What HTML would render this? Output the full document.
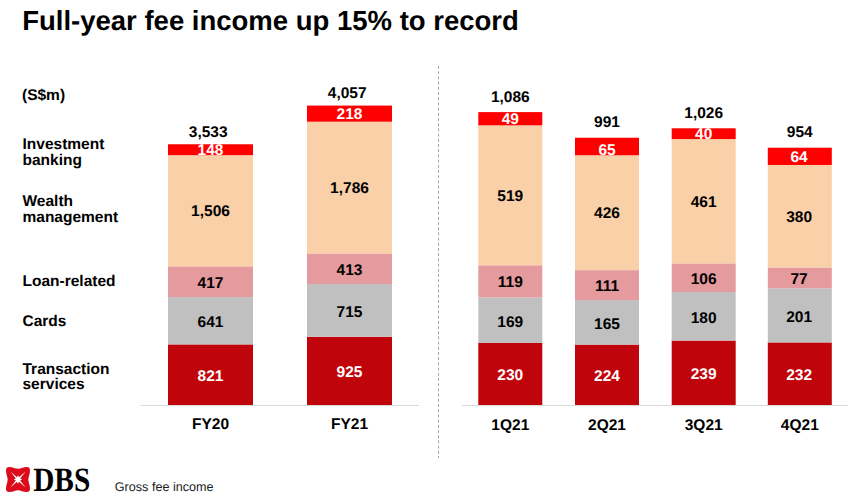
<!DOCTYPE html>
<html><head><meta charset="utf-8"><style>
html,body{margin:0;padding:0;background:#fff;width:858px;height:502px;overflow:hidden}
svg{display:block}
text{font-family:"Liberation Sans",sans-serif;font-weight:bold;text-rendering:geometricPrecision}
.n{font-size:15.5px;text-anchor:middle}
.lab{font-size:15.5px}
</style></head><body>
<svg width="858" height="502" viewBox="0 0 858 502">
<text x="22.2" y="30" style="font-size:27.5px">Full-year fee income up 15% to record</text>
<text x="22" y="99.7" class="lab">(S$m)</text>
<text x="22.5" y="148.7" class="lab">Investment</text>
<text x="22.5" y="164.6" class="lab">banking</text>
<text x="22.5" y="205.8" class="lab">Wealth</text>
<text x="22.5" y="221.5" class="lab">management</text>
<text x="22.5" y="285.8" class="lab">Loan-related</text>
<text x="22.5" y="325.8" class="lab">Cards</text>
<text x="22.5" y="373.6" class="lab">Transaction</text>
<text x="22.5" y="388.6" class="lab">services</text>
<line x1="140.5" y1="405.5" x2="419" y2="405.5" stroke="#D9D9D9" stroke-width="1"/>
<line x1="462" y1="405.5" x2="848" y2="405.5" stroke="#D9D9D9" stroke-width="1"/>
<line x1="438.5" y1="66" x2="438.5" y2="458" stroke="#A6A6A6" stroke-width="1" stroke-dasharray="3 2.2"/>
<rect x="168" y="344.41" width="85" height="60.59" fill="#BF050B"/>
<rect x="168" y="297.10" width="85" height="47.31" fill="#C0C0C0"/>
<rect x="168" y="266.33" width="85" height="30.77" fill="#E59A9E"/>
<rect x="168" y="155.19" width="85" height="111.14" fill="#FAD0A8"/>
<rect x="168" y="144.26" width="85" height="10.92" fill="#FF0000"/>
<rect x="307" y="336.74" width="85" height="68.27" fill="#BF050B"/>
<rect x="307" y="283.97" width="85" height="52.77" fill="#C0C0C0"/>
<rect x="307" y="253.49" width="85" height="30.48" fill="#E59A9E"/>
<rect x="307" y="121.68" width="85" height="131.81" fill="#FAD0A8"/>
<rect x="307" y="105.59" width="85" height="16.09" fill="#FF0000"/>
<rect x="478.3" y="342.97" width="64" height="62.03" fill="#BF050B"/>
<rect x="478.3" y="297.39" width="64" height="45.58" fill="#C0C0C0"/>
<rect x="478.3" y="265.30" width="64" height="32.09" fill="#E59A9E"/>
<rect x="478.3" y="125.32" width="64" height="139.97" fill="#FAD0A8"/>
<rect x="478.3" y="112.11" width="64" height="13.22" fill="#FF0000"/>
<rect x="575" y="344.59" width="64" height="60.41" fill="#BF050B"/>
<rect x="575" y="300.09" width="64" height="44.50" fill="#C0C0C0"/>
<rect x="575" y="270.15" width="64" height="29.94" fill="#E59A9E"/>
<rect x="575" y="155.26" width="64" height="114.89" fill="#FAD0A8"/>
<rect x="575" y="137.73" width="64" height="17.53" fill="#FF0000"/>
<rect x="671.7" y="340.54" width="64" height="64.46" fill="#BF050B"/>
<rect x="671.7" y="292.00" width="64" height="48.55" fill="#C0C0C0"/>
<rect x="671.7" y="263.41" width="64" height="28.59" fill="#E59A9E"/>
<rect x="671.7" y="139.08" width="64" height="124.33" fill="#FAD0A8"/>
<rect x="671.7" y="128.29" width="64" height="10.79" fill="#FF0000"/>
<rect x="767.8" y="342.43" width="64" height="62.57" fill="#BF050B"/>
<rect x="767.8" y="288.22" width="64" height="54.21" fill="#C0C0C0"/>
<rect x="767.8" y="267.45" width="64" height="20.77" fill="#E59A9E"/>
<rect x="767.8" y="164.97" width="64" height="102.49" fill="#FAD0A8"/>
<rect x="767.8" y="147.71" width="64" height="17.26" fill="#FF0000"/>
<text x="210.5" y="381.10" fill="#fff" class="n">821</text>
<text x="210.5" y="327.15" fill="#000" class="n">641</text>
<text x="210.5" y="287.61" fill="#000" class="n">417</text>
<text x="210.5" y="216.25" fill="#000" class="n">1,506</text>
<text x="210.5" y="155.22" fill="#fff" class="n">148</text>
<text x="208.2" y="136.76" class="n">3,533</text>
<text x="210.5" y="428.6" class="n">FY20</text>
<text x="349.5" y="377.26" fill="#fff" class="n">925</text>
<text x="349.5" y="316.75" fill="#000" class="n">715</text>
<text x="349.5" y="274.62" fill="#000" class="n">413</text>
<text x="349.5" y="193.08" fill="#000" class="n">1,786</text>
<text x="349.5" y="119.13" fill="#fff" class="n">218</text>
<text x="347.2" y="98.09" class="n">4,057</text>
<text x="349.5" y="428.6" class="n">FY21</text>
<text x="510.3" y="380.38" fill="#fff" class="n">230</text>
<text x="510.3" y="326.57" fill="#000" class="n">169</text>
<text x="510.3" y="287.24" fill="#000" class="n">119</text>
<text x="510.3" y="200.80" fill="#000" class="n">519</text>
<text x="510.3" y="124.21" fill="#fff" class="n">49</text>
<text x="510.3" y="101.61" class="n">1,086</text>
<text x="510.3" y="429.6" class="n">1Q21</text>
<text x="607.0" y="381.19" fill="#fff" class="n">224</text>
<text x="607.0" y="328.73" fill="#000" class="n">165</text>
<text x="607.0" y="291.01" fill="#000" class="n">111</text>
<text x="607.0" y="218.20" fill="#000" class="n">426</text>
<text x="607.0" y="154.69" fill="#fff" class="n">65</text>
<text x="607.0" y="127.23" class="n">991</text>
<text x="607.0" y="429.6" class="n">2Q21</text>
<text x="703.7" y="379.17" fill="#fff" class="n">239</text>
<text x="703.7" y="322.66" fill="#000" class="n">180</text>
<text x="703.7" y="283.60" fill="#000" class="n">106</text>
<text x="703.7" y="206.74" fill="#000" class="n">461</text>
<text x="703.7" y="139.18" fill="#fff" class="n">40</text>
<text x="703.7" y="117.79" class="n">1,026</text>
<text x="703.7" y="429.6" class="n">3Q21</text>
<text x="799.1" y="380.11" fill="#fff" class="n">232</text>
<text x="799.1" y="321.72" fill="#000" class="n">201</text>
<text x="799.1" y="284.33" fill="#000" class="n">77</text>
<text x="799.1" y="221.70" fill="#000" class="n">380</text>
<text x="799.1" y="161.83" fill="#fff" class="n">64</text>
<text x="799.8" y="137.21" class="n">954</text>
<text x="799.8" y="429.6" class="n">4Q21</text>
<g transform="translate(6,467) scale(0.24,0.25)">
<path fill="#DD0A1C" d="M14,0 C30,0 38,7 50,7 C62,7 70,0 86,0 C96,0 100,4 100,14 C100,30 93,38 93,50 C93,62 100,70 100,86 C100,96 96,100 86,100 C70,100 62,93 50,93 C38,93 30,100 14,100 C4,100 0,96 0,86 C0,70 7,62 7,50 C7,38 0,30 0,14 C0,4 4,0 14,0 Z"/>
<path fill="#fff" d="M50,33 Q54,46 67,50 Q54,54 50,67 Q46,54 33,50 Q46,46 50,33 Z M18,18 L53,47 L47,53 Z M82,18 L53,53 L47,47 Z M82,82 L47,53 L53,47 Z M18,82 L47,47 L53,53 Z"/>
</g>
<text x="33.2" y="490.7" style="font-family:'Liberation Serif',serif;font-weight:bold;font-size:34px" textLength="57" lengthAdjust="spacingAndGlyphs">DBS</text>
<text x="114.8" y="490.8" style="font-weight:normal;font-size:12.6px;fill:#1a1a1a">Gross fee income</text>
</svg>
</body></html>
